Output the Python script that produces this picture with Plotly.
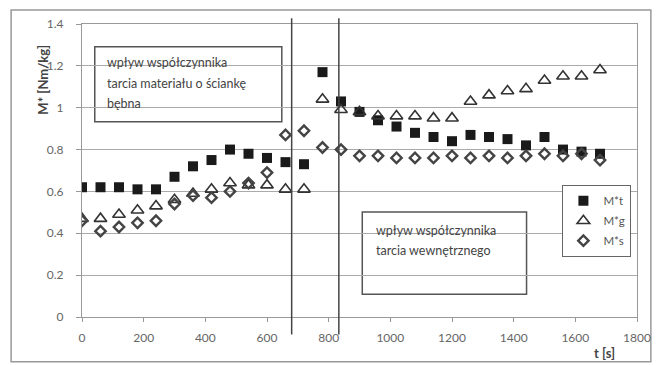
import plotly.graph_objects as go

t = [0, 60, 120, 180, 240, 300, 360, 420, 480, 540, 600, 660, 720, 780, 840,
     900, 960, 1020, 1080, 1140, 1200, 1260, 1320, 1380, 1440, 1500, 1560, 1620, 1680]
m_t = [0.62, 0.62, 0.62, 0.61, 0.61, 0.67, 0.72, 0.75, 0.80, 0.78, 0.76, 0.74, 0.73, 1.17, 1.03,
       0.98, 0.94, 0.91, 0.88, 0.86, 0.84, 0.87, 0.86, 0.85, 0.82, 0.86, 0.80, 0.79, 0.78]
m_g = [0.47, 0.47, 0.49, 0.51, 0.53, 0.56, 0.59, 0.61, 0.64, 0.63, 0.63, 0.61, 0.61, 1.04, 0.99,
       0.98, 0.96, 0.96, 0.96, 0.95, 0.95, 1.03, 1.06, 1.08, 1.09, 1.13, 1.15, 1.15, 1.18]
m_s = [0.46, 0.41, 0.43, 0.45, 0.46, 0.54, 0.58, 0.57, 0.60, 0.64, 0.69, 0.87, 0.89, 0.81, 0.80,
       0.77, 0.77, 0.76, 0.76, 0.76, 0.77, 0.76, 0.77, 0.76, 0.77, 0.78, 0.77, 0.78, 0.75]
series_names = ["M*t", "M*g", "M*s"]
boundaries = [680, 833]
box1_lines = ["wpływ współczynnika", "tarcia materiału o ściankę", "bębna"]
box2_lines = ["wpływ współczynnika", "tarcia wewnętrznego"]
x_range = [0, 1800]
y_range = [0, 1.4]
FONT = "Lato"
TXT = "#444444"

fig = go.Figure()
fig.add_trace(go.Scatter(x=t, y=m_t, mode="markers", name=series_names[0], legendgroup="a",
                         marker=dict(symbol="square", size=10, color="#1a1a1a",
                                     line=dict(width=0))))
fig.add_trace(go.Scatter(x=t, y=m_g, mode="markers", name=series_names[1], legendgroup="b",
                         marker=dict(symbol="triangle-up-open", size=11, color="#333333",
                                     line=dict(width=1.6))))
fig.add_trace(go.Scatter(x=t, y=m_s, mode="markers", name=series_names[2], legendgroup="c",
                         marker=dict(symbol="diamond-open", size=8, color="#444444",
                                     line=dict(width=2.4))))

shapes = []
for b in boundaries:
    xp = (b - x_range[0]) / (x_range[1] - x_range[0])
    shapes.append(dict(type="line", xref="paper", yref="paper", x0=xp, x1=xp,
                       y0=-0.06, y1=1.02, line=dict(color="#444444", width=1.5),
                       layer="above"))
# text boxes
shapes.append(dict(type="rect", xref="paper", yref="paper", x0=0.023, x1=0.36,
                   y0=0.666, y1=0.922, fillcolor="white",
                   line=dict(color="#555555", width=1.5), layer="between"))
shapes.append(dict(type="rect", xref="paper", yref="paper", x0=0.505, x1=0.801,
                   y0=0.078, y1=0.358, fillcolor="white",
                   line=dict(color="#555555", width=1.5), layer="between"))
# outer frame
shapes.append(dict(type="rect", xref="paper", yref="paper", x0=-0.1277, x1=1.025,
                   y0=-0.153, y1=1.048, line=dict(color="#999999", width=1.5),
                   layer="below"))

PW, PH, ML, MT = 564, 293, 82, 24
def px(xpix):
    return (xpix - ML) / PW
def py(ypix):
    return 1 - (ypix - MT) / PH

annotations = []
for i, line in enumerate(box1_lines):
    annotations.append(dict(text=line, xref="paper", yref="paper", x=px(105), y=py(63 + 20 * i),
                            xanchor="left", yanchor="middle", showarrow=False,
                            font=dict(family=FONT, size=12.5, color=TXT)))
for i, line in enumerate(box2_lines):
    annotations.append(dict(text=line, xref="paper", yref="paper", x=px(379), y=py(230 + 20 * i),
                            xanchor="left", yanchor="middle", showarrow=False,
                            font=dict(family=FONT, size=12.5, color=TXT)))
annotations += [
    dict(text="<b>M* [Nm/kg]</b>", xref="paper", yref="paper", x=px(42), y=py(80),
         xanchor="center", yanchor="middle", textangle=-90, showarrow=False,
         font=dict(family=FONT, size=13, color=TXT)),
    dict(text="<b>t [s]</b>", xref="paper", yref="paper", x=px(613), y=py(353),
         xanchor="center", yanchor="middle", showarrow=False,
         font=dict(family=FONT, size=13, color=TXT)),
]

fig.update_layout(
    width=663, height=365,
    margin=dict(l=ML, r=663 - ML - PW, t=MT, b=365 - MT - PH),
    paper_bgcolor="white", plot_bgcolor="white",
    font=dict(family=FONT, size=12, color="#666666"),
    shapes=shapes, annotations=annotations,
    showlegend=True,
    legend=dict(x=px(570), y=py(185), xanchor="left", yanchor="top",
                bgcolor="white", bordercolor="#666666", borderwidth=1.2,
                font=dict(family=FONT, size=11.5, color="#555555"),
                itemwidth=30, tracegroupgap=1),
)
fig.update_xaxes(range=x_range, dtick=200, tick0=0, showgrid=False, zeroline=False,
                 showline=True, mirror=True, linecolor="#999999", linewidth=1.2,
                 ticks="outside", ticklen=4, tickcolor="#999999",
                 ticklabelstandoff=5, tickfont=dict(size=12, color="#666666"))
fig.update_yaxes(range=y_range, dtick=0.2, tick0=0, showgrid=True, gridcolor="#aaaaaa",
                 gridwidth=1.2, zeroline=False, showline=True, mirror=True,
                 linecolor="#999999", linewidth=1.2, ticks="outside", ticklen=5,
                 tickcolor="#999999", ticklabelstandoff=10,
                 tickfont=dict(size=12, color="#666666"))

fig.write_html("out.html")
